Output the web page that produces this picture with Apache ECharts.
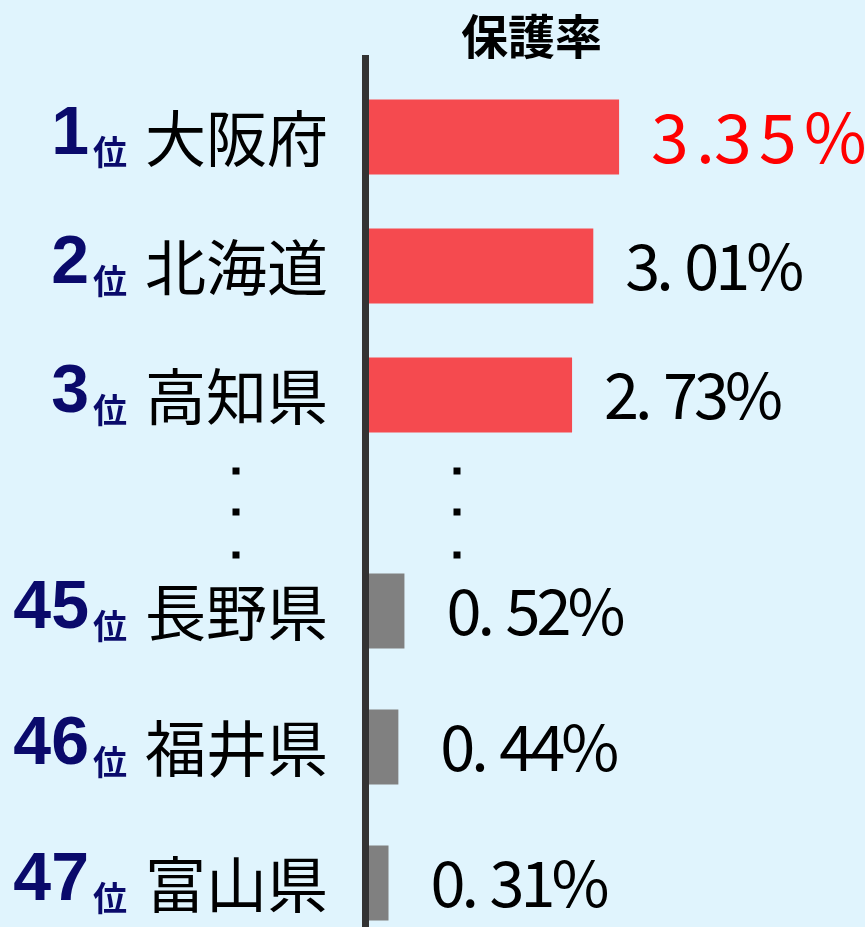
<!DOCTYPE html>
<html>
<head>
<meta charset="utf-8">
<script src="https://cdn.jsdelivr.net/npm/echarts@6/dist/echarts.min.js"></script>
<style>
  html, body { margin: 0; padding: 0; background: #e0f4fd; }
  #chart { width: 865px; height: 927px; }
</style>
</head>
<body>
<div id="chart"></div>
<script>
// 上位3県
var topRanks = ['1', '2', '3'];
var topNames = ['大阪府', '北海道', '高知県'];
var topRates = [3.35, 3.01, 2.73];
// 下位3県
var bottomRanks = ['45', '46', '47'];
var bottomNames = ['長野県', '福井県', '富山県'];
var bottomRates = [0.52, 0.44, 0.31];

var NAVY = '#0a0a6b';
var LATIN = '"Liberation Sans", Arial, sans-serif';
var JP = '"Noto Sans CJK JP", sans-serif';

function catLabels(ranks, names) {
  return ranks.map(function (r, i) {
    return '{n|' + r + '}{i|位}{g| }{p|' + names[i] + '}';
  });
}

// 1文字ずつ枠を作って字間を広げる
function spaced(str, key) {
  return str.split('').map(function (ch) {
    var k = ch === '.' ? key + 'p' : (ch === '%' ? key + 'c' : key + 'd');
    return '{' + k + '|' + ch + '}';
  }).join('');
}

var yLabel = {
  margin: 37,
  rich: {
    n: { fontFamily: LATIN, fontWeight: 'bold', fontSize: 68, color: NAVY, verticalAlign: 'bottom', padding: [0, 0, 4, 0] },
    i: { fontFamily: JP, fontWeight: 'bold', fontSize: 34, color: NAVY, verticalAlign: 'bottom', padding: [0, 0, 4, 4] },
    g: { width: 18 },
    p: { fontFamily: JP, fontSize: 61, color: '#000', verticalAlign: 'bottom', padding: [0, 0, 4, 0] }
  }
};

var valueRich = {
  bd: { fontFamily: JP, fontSize: 63, color: '#000', width: 31 },
  bp: { fontFamily: JP, fontSize: 63, color: '#000', width: 28 },
  bc: { fontFamily: JP, fontSize: 63, color: '#000', width: 62 },
  rd: { fontFamily: JP, fontSize: 68, color: '#ff0000', width: 45 },
  rp: { fontFamily: JP, fontSize: 68, color: '#ff0000', width: 18 },
  rc: { fontFamily: JP, fontSize: 68, color: '#ff0000', width: 55 }
};

function valueLabel(dist) {
  return {
    show: true,
    position: 'right',
    distance: dist,
    formatter: function (p) {
      var s = p.value.toFixed(2) + '%';
      return p.seriesIndex === 0 && p.dataIndex === 0 ? spaced(s, 'r') : spaced(s, 'b');
    },
    rich: valueRich
  };
}

var chart = echarts.init(document.getElementById('chart'));

var dots = [];
[236, 457].forEach(function (x) {
  [471, 512, 555].forEach(function (y) {
    dots.push({ type: 'rect', shape: { x: x - 3.5, y: y - 3.5, width: 7, height: 7 }, style: { fill: '#000' } });
  });
});

var option = {
  backgroundColor: '#e0f4fd',
  animation: false,
  title: {
    text: '保護率',
    left: 456,
    top: 8,
    textStyle: { fontFamily: JP, fontWeight: 'bold', fontSize: 47, color: '#000' }
  },
  grid: [
    { left: 365, right: 7, top: 137, height: 258 },
    { left: 365, right: 7, top: 611, height: 272 }
  ],
  xAxis: [
    { gridIndex: 0, type: 'value', min: 0, max: 6.5, show: false },
    { gridIndex: 1, type: 'value', min: 0, max: 6.5, show: false }
  ],
  yAxis: [
    {
      gridIndex: 0, type: 'category', inverse: true, boundaryGap: false,
      data: catLabels(topRanks, topNames),
      axisLine: { show: false }, axisTick: { show: false },
      axisLabel: yLabel
    },
    {
      gridIndex: 1, type: 'category', inverse: true, boundaryGap: false,
      data: catLabels(bottomRanks, bottomNames),
      axisLine: { show: false }, axisTick: { show: false },
      axisLabel: yLabel
    }
  ],
  series: [
    {
      type: 'bar', xAxisIndex: 0, yAxisIndex: 0, clip: false,
      data: topRates, barWidth: 75,
      itemStyle: { color: '#f54a4f' },
      label: valueLabel(32)
    },
    {
      type: 'bar', xAxisIndex: 1, yAxisIndex: 1, clip: false,
      data: bottomRates, barWidth: 75,
      itemStyle: { color: '#808080' },
      label: valueLabel(42)
    }
  ],
  graphic: [
    {
      type: 'line', z: 100,
      shape: { x1: 365.5, y1: 55, x2: 365.5, y2: 927 },
      style: { stroke: '#333', lineWidth: 7 }
    }
  ].concat(dots)
};

chart.setOption(option);
</script>
</body>
</html>
